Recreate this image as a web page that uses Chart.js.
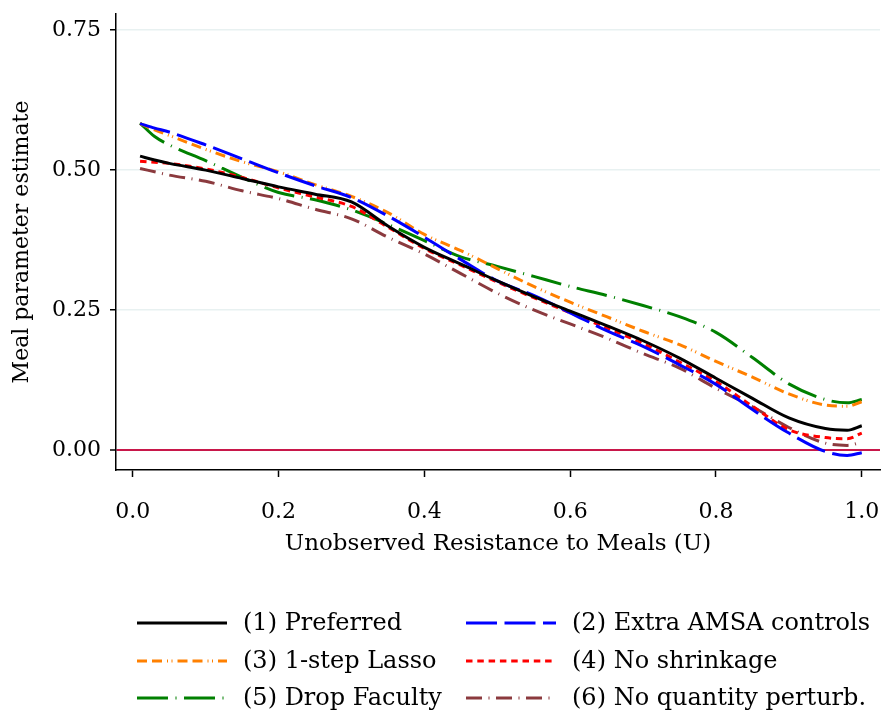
<!DOCTYPE html>
<html>
<head>
<meta charset="utf-8">
<script src="https://cdn.jsdelivr.net/npm/chart.js@4.4.0/dist/chart.umd.min.js"></script>
<style>
  html, body { margin: 0; padding: 0; background: #fff; }
  #wrap { width: 882px; height: 710px; }
</style>
</head>
<body>
<div id="wrap"><canvas id="chart" width="882" height="710"></canvas></div>
<script>
/* ---- data ---- */
const uGrid = [0.01, 0.03, 0.05, 0.1, 0.15, 0.2, 0.25, 0.3, 0.35, 0.4, 0.45, 0.5, 0.55, 0.6, 0.65, 0.7, 0.75, 0.8, 0.85, 0.9, 0.95, 0.98, 1.0];

const preferred  = [0.525, 0.518, 0.512, 0.500, 0.485, 0.470, 0.457, 0.443, 0.400, 0.362, 0.332, 0.302, 0.274, 0.248, 0.222, 0.195, 0.164, 0.128, 0.092, 0.057, 0.038, 0.035, 0.043];
const extraAmsa  = [0.583, 0.575, 0.568, 0.545, 0.520, 0.495, 0.472, 0.451, 0.418, 0.380, 0.340, 0.302, 0.276, 0.245, 0.213, 0.185, 0.152, 0.117, 0.072, 0.030, -0.003, -0.010, -0.005];
const lasso1     = [0.583, 0.572, 0.562, 0.537, 0.515, 0.497, 0.474, 0.453, 0.424, 0.385, 0.356, 0.324, 0.292, 0.264, 0.238, 0.212, 0.188, 0.158, 0.130, 0.100, 0.080, 0.078, 0.086];
const noShrink   = [0.516, 0.514, 0.512, 0.502, 0.487, 0.468, 0.452, 0.435, 0.398, 0.360, 0.330, 0.300, 0.272, 0.245, 0.218, 0.190, 0.157, 0.122, 0.078, 0.036, 0.022, 0.020, 0.030];
const dropFac    = [0.584, 0.560, 0.545, 0.517, 0.487, 0.460, 0.447, 0.429, 0.403, 0.374, 0.345, 0.328, 0.310, 0.292, 0.276, 0.258, 0.238, 0.210, 0.165, 0.118, 0.090, 0.084, 0.090];
const noQtyPert  = [0.503, 0.497, 0.491, 0.480, 0.463, 0.449, 0.430, 0.413, 0.380, 0.350, 0.315, 0.280, 0.250, 0.225, 0.200, 0.172, 0.146, 0.110, 0.077, 0.040, 0.012, 0.008, 0.014];

const xTicks = [0, 0.2, 0.4, 0.6, 0.8, 1.0];
const yTicks = [0, 0.25, 0.5, 0.75];

const seriesLabels = ["(1) Preferred", "(2) Extra AMSA controls", "(3) 1-step Lasso", "(4) No shrinkage", "(5) Drop Faculty", "(6) No quantity perturb."];

/* ---- helpers ---- */
const FONT = "'DejaVu Serif', 'Liberation Serif', serif";

function pts(vals) {
    return uGrid.map((u, i) => ({ x: u, y: vals[i] }));
}

function line(label, vals, color, dash) {
    return {
        label: label,
        data: pts(vals),
        borderColor: color,
        backgroundColor: color,
        borderWidth: 3,
        borderDash: dash,
        borderCapStyle: "butt",
        pointRadius: 0,
        fill: false,
        cubicInterpolationMode: "monotone"
    };
}

// legend drawn in two aligned columns, like the original
const gridLegend = {
    id: "gridLegend",
    afterDraw(chart) {
        const ctx = chart.ctx;
        const colX = [137, 466];
        const rowY = [623, 661, 698];
        ctx.save();
        chart.data.datasets.forEach((ds, i) => {
            const x = colX[i % 2];
            const y = rowY[Math.floor(i / 2)];
            ctx.beginPath();
            ctx.strokeStyle = ds.borderColor;
            ctx.lineWidth = ds.borderWidth;
            ctx.setLineDash(ds.borderDash || []);
            ctx.moveTo(x, y);
            ctx.lineTo(x + 90, y);
            ctx.stroke();
            ctx.setLineDash([]);
            ctx.fillStyle = "#000";
            ctx.font = "24px " + FONT;
            ctx.textBaseline = "middle";
            ctx.fillText(ds.label, x + 106, y + 1);
        });
        ctx.restore();
    }
};

const ctx = document.getElementById("chart");

new Chart(ctx, {
    type: "line",
    data: {
        datasets: [
            line(seriesLabels[0], preferred, "#000000", []),
            line(seriesLabels[1], extraAmsa, "#0000ff", [31, 7.5]),
            line(seriesLabels[2], lasso1, "#ff8000", [10, 5, 10, 5, 1, 3.5, 1, 5]),
            line(seriesLabels[3], noShrink, "#ff0000", [6.5, 4.8]),
            line(seriesLabels[4], dropFac, "#008000", [31, 7.5, 1, 7.5]),
            line(seriesLabels[5], noQtyPert, "#8b3a3e", [16, 6.5, 1, 6.5])
        ]
    },
    options: {
        responsive: false,
        animation: false,
        layout: { padding: { left: 0, right: 2, top: 14, bottom: 152 } },
        plugins: {
            legend: { display: false },
            tooltip: { enabled: false }
        },
        scales: {
            x: {
                type: "linear",
                min: -0.023,
                max: 1.025,
                afterBuildTicks(scale) { scale.ticks = xTicks.map(v => ({ value: v })); },
                afterFit(scale) {
                    scale.height = 88;
                    scale.paddingLeft = 0;
                    scale.paddingRight = 0;
                },
                ticks: {
                    color: "#000",
                    padding: 22,
                    maxRotation: 0,
                    font: { family: FONT, size: 22 },
                    callback: v => Number(v).toFixed(1)
                },
                grid: {
                    drawOnChartArea: false,
                    tickLength: 7,
                    tickColor: "#000",
                    tickWidth: 1.5
                },
                border: { color: "#000", width: 1.5 },
                title: {
                    display: true,
                    text: "Unobserved Resistance to Meals (U)",
                    color: "#000",
                    font: { family: FONT, size: 23 },
                    padding: { top: 4, bottom: 0 }
                }
            },
            y: {
                type: "linear",
                min: -0.036,
                max: 0.779,
                afterBuildTicks(scale) { scale.ticks = yTicks.map(v => ({ value: v })); },
                afterFit(scale) {
                    scale.width = 116;
                    scale.paddingTop = 0;
                    scale.paddingBottom = 0;
                },
                ticks: {
                    color: "#000",
                    padding: 9,
                    font: { family: FONT, size: 22 },
                    callback: v => Number(v).toFixed(2)
                },
                grid: {
                    color: c => (c.tick && c.tick.value === 0) ? "#c8174a" : "#e8f1f1",
                    lineWidth: c => (c.tick && c.tick.value === 0) ? 2 : 1.5,
                    tickLength: 6,
                    tickColor: "#000",
                    tickWidth: 1.5
                },
                border: { color: "#000", width: 1.5 },
                title: {
                    display: true,
                    text: "Meal parameter estimate",
                    color: "#000",
                    font: { family: FONT, size: 22 },
                    padding: { top: 9, bottom: 0 }
                }
            }
        }
    },
    plugins: [gridLegend]
});
</script>
</body>
</html>
